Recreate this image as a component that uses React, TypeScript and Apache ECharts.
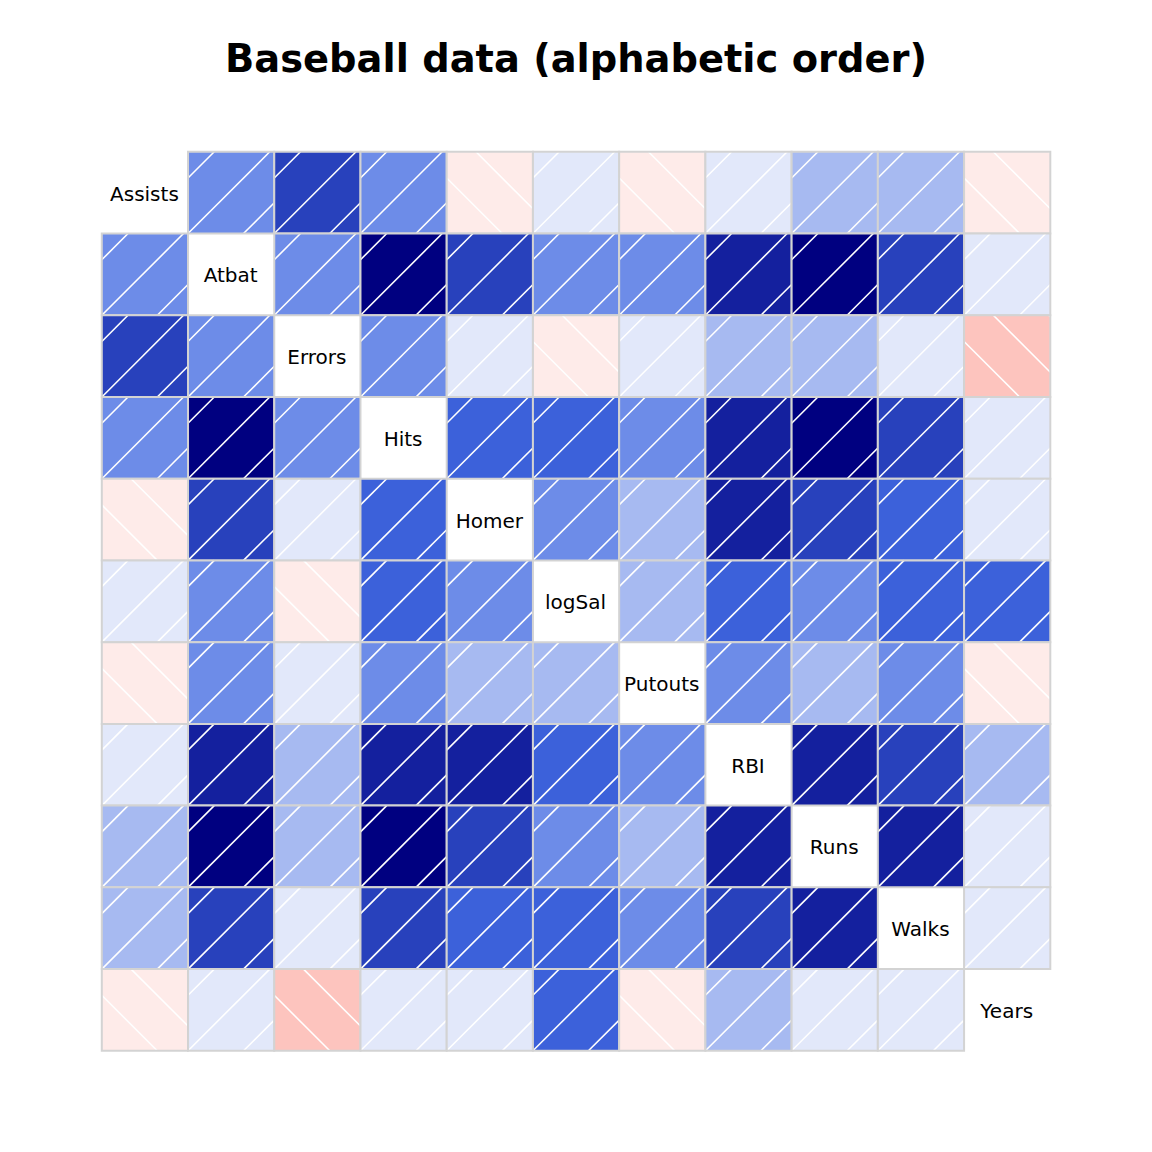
import React, { useEffect, useRef } from "react";
import * as echarts from "echarts";

const variables = ["Assists", "Atbat", "Errors", "Hits", "Homer", "logSal", "Putouts", "RBI", "Runs", "Walks", "Years"];

// lower-triangle correlations, row i holds correlations with variables 0..i-1
const corrLower: number[][] = [
  [],
  [0.34],
  [0.70, 0.34],
  [0.31, 0.97, 0.30],
  [-0.12, 0.59, 0.04, 0.53],
  [0.05, 0.40, -0.03, 0.45, 0.34],
  [-0.04, 0.31, 0.07, 0.30, 0.23, 0.24],
  [0.06, 0.81, 0.15, 0.80, 0.85, 0.45, 0.31],
  [0.18, 0.90, 0.18, 0.91, 0.63, 0.42, 0.27, 0.78],
  [0.19, 0.62, 0.07, 0.60, 0.48, 0.44, 0.30, 0.60, 0.72],
  [-0.09, 0.01, -0.18, 0.02, 0.08, 0.54, -0.02, 0.15, 0.03, 0.12],
];

// colorRampPalette(c("red","salmon","white","royalblue","navy"))(14)
const palette = [
  "#FF0000", "#FE2723", "#FC4F46", "#FA7669", "#FB9D93", "#FDC4BE", "#FEEBE9",
  "#E2E8FA", "#A7BAF1", "#6D8CE8", "#3C61DA", "#2841BC", "#14209E", "#000080",
];

function corrAt(i: number, j: number): number {
  if (i === j) return 1;
  return i > j ? corrLower[i][j] : corrLower[j][i];
}

function colorFor(r: number): string {
  let idx = Math.floor((r + 1) * 7);
  if (idx > 13) idx = 13;
  if (idx < 0) idx = 0;
  return palette[idx];
}

export default function App() {
  const ref = useRef<HTMLDivElement>(null);
  useEffect(() => {
    document.body.style.margin = "0";
    const chart = echarts.init(ref.current!, null, { renderer: "svg" });
    const n = variables.length;
    const data: any[] = [];
    for (let row = 0; row < n; row++) {
      for (let col = 0; col < n; col++) {
        data.push([col, row, corrAt(row, col)]);
      }
    }
    const step = 55.5;
    const option: any = {
      animation: false,
      backgroundColor: "#ffffff",
      title: {
        text: "Baseball data (alphabetic order)",
        left: "center",
        top: 38,
        padding: 0,
        textStyle: {
          fontFamily: "DejaVu Sans",
          fontWeight: "bold",
          fontSize: 38.4,
          lineHeight: 40,
          color: "#000000",
        },
      },
      grid: { left: 101.8, top: 151.8, width: 948.5, height: 899 },
      xAxis: { type: "category", data: variables, show: false },
      yAxis: { type: "category", data: variables, show: false, inverse: true },
      series: [
        {
          type: "custom",
          coordinateSystem: "cartesian2d",
          data,
          renderItem: (params: any, api: any) => {
            const col = api.value(0);
            const row = api.value(1);
            const r = api.value(2);
            const c = api.coord([col, row]);
            const s = api.size([1, 1]);
            const x0 = c[0] - s[0] / 2;
            const y0 = c[1] - s[1] / 2;
            const x1 = x0 + s[0];
            const y1 = y0 + s[1];
            if (col === row) {
              return {
                type: "text",
                x: c[0] - 0.5,
                y: c[1] + 1,
                style: {
                  text: variables[col],
                  fill: "#000000",
                  fontSize: 20,
                  fontFamily: "DejaVu Sans",
                  align: "center",
                  verticalAlign: "middle",
                },
              };
            }
            const children: any[] = [];
            children.push({
              type: "rect",
              shape: { x: x0, y: y0, width: s[0], height: s[1] },
              style: { fill: colorFor(r) },
            });
            if (r > 0) {
              // lines x + y = const
              const base = x0 + y1;
              for (let k = -5; k <= 5; k++) {
                const cc = base + k * step;
                const xa = Math.max(x0, cc - y1);
                const xb = Math.min(x1, cc - y0);
                if (xb - xa > 0.5) {
                  children.push({
                    type: "line",
                    shape: { x1: xa, y1: cc - xa, x2: xb, y2: cc - xb },
                    style: { stroke: "#ffffff", lineWidth: 1.6 },
                  });
                }
              }
            } else {
              // lines x - y = const
              const base = x0 - y1;
              for (let k = -5; k <= 5; k++) {
                const cc = base + k * step;
                const xa = Math.max(x0, cc + y0);
                const xb = Math.min(x1, cc + y1);
                if (xb - xa > 0.5) {
                  children.push({
                    type: "line",
                    shape: { x1: xa, y1: xa - cc, x2: xb, y2: xb - cc },
                    style: { stroke: "#ffffff", lineWidth: 1.6 },
                  });
                }
              }
            }
            children.push({
              type: "rect",
              shape: { x: x0, y: y0, width: s[0], height: s[1] },
              style: { fill: "none", stroke: "#D3D3D3", lineWidth: 2 },
            });
            return { type: "group", children };
          },
        },
      ],
    };
    chart.setOption(option);
    return () => chart.dispose();
  }, []);
  return <div ref={ref} style={{ width: 1152, height: 1152 }} />;
}
